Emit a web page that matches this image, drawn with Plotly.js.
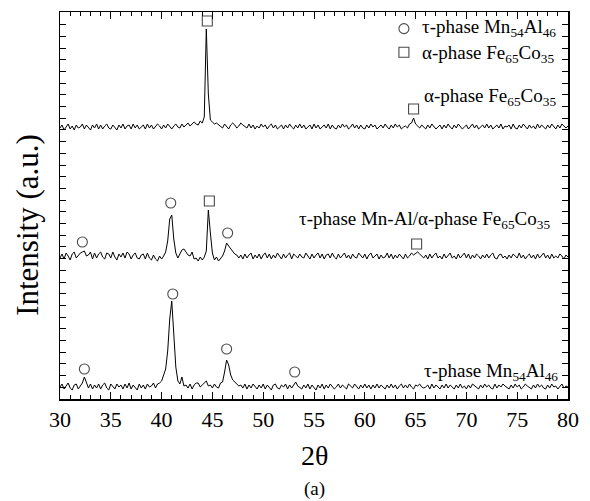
<!DOCTYPE html>
<html>
<head>
<meta charset="utf-8">
<script src="https://cdn.plot.ly/plotly-3.0.1.min.js"></script>
<style>html,body{margin:0;padding:0;background:#fff}#chart{width:590px;height:501px}</style>
</head>
<body>
<div id="chart"></div>
<script>
// 2θ sampling grid of the scans
const twoThetaStart = 30, twoThetaStep = 0.2, nPoints = 251;

// bottom: τ-phase Mn54Al46 (offset intensity, a.u.)
const mnAl = [
12,15,10,13,16,11,9,14,15,10,
13,16,22,17,11,15,10,14,11,15,
10,14,16,11,9,15,13,10,15,12,
14,10,15,11,16,10,14,12,9,15,
11,14,10,15,12,13,16,11,15,16,
18,24,30,48,80,98,70,32,18,15,
22,13,14,11,15,10,14,16,16,12,
14,16,18,13,14,11,15,12,11,16,
17,27,39,34,24,19,17,15,13,14,
11,15,10,14,11,15,12,10,14,11,
15,10,14,11,9,14,15,11,10,14,
12,15,10,14,11,14,17,13,11,10,
14,11,15,10,14,11,9,14,11,15,
10,14,11,15,13,10,12,15,11,14,
12,10,15,13,11,15,13,10,14,11,
15,11,14,10,14,11,15,11,14,12,
10,14,11,15,11,14,10,13,15,11,
14,11,15,12,10,14,13,15,12,11,
12,14,10,15,11,14,12,10,14,11,
15,11,14,12,10,14,11,15,11,13,
10,14,11,15,13,11,10,14,11,15,
12,14,11,10,15,11,14,12,15,13,
11,10,14,11,15,12,14,10,12,15,
13,11,10,14,11,15,12,14,11,10,
14,11,15,12,13,10,12,15,11,13,
12];

// middle: τ-phase Mn-Al / α-phase Fe65Co35
const mnAlFeCo = [
141,145,140,146,143,139,145,147,141,144,
146,147,148,143,144,147,140,146,141,145,
147,142,140,146,145,141,147,142,139,145,
142,146,141,147,145,140,144,146,141,140,
144,145,140,146,141,139,144,140,138,143,
140,143,147,158,180,184,160,146,141,145,
149,150,147,144,143,147,140,141,138,142,
139,142,148,189,166,146,139,142,138,141,
143,148,156,153,150,147,145,144,141,144,
140,145,141,144,146,140,144,141,145,140,
144,146,141,145,140,144,141,146,143,140,
145,141,144,146,140,145,143,141,145,142,
141,146,143,140,145,141,144,146,141,145,
140,144,145,141,146,142,140,145,141,144,
146,141,144,140,145,142,141,146,143,141,
145,140,144,146,141,143,145,140,144,141,
142,146,141,145,140,144,141,145,143,140,
145,141,143,146,144,146,147,145,143,141,
144,140,145,141,144,146,141,143,140,145,
141,144,146,141,143,140,145,141,144,146,
141,145,140,144,141,145,143,140,144,141,
145,141,144,146,141,140,144,145,141,143,
140,144,141,145,143,141,146,141,144,140,
143,145,141,144,140,145,141,143,146,141,
144,140,145,141,143,141,145,143,140,144,
142];

// top: α-phase Fe65Co35
const feCo = [
271,274,269,272,275,270,273,269,274,271,
272,275,270,274,272,269,274,271,275,270,
274,270,273,275,271,270,274,272,269,274,
271,275,270,273,274,270,275,271,274,270,
272,274,270,275,271,274,270,273,275,273,
270,274,271,275,273,270,273,275,272,271,
275,272,274,276,273,275,277,275,274,278,
276,282,370,305,279,277,275,276,274,272,
271,275,273,270,274,276,274,271,273,276,
274,272,271,275,271,274,270,273,271,275,
272,274,270,273,275,271,274,270,272,274,
270,274,271,275,272,270,274,271,275,271,
274,270,272,274,270,275,271,274,270,272,
274,271,275,270,274,271,270,274,271,275,
272,274,270,272,275,271,274,270,274,271,
270,274,271,275,272,274,270,272,274,271,
275,272,270,274,271,275,272,274,270,272,
273,271,275,276,281,275,273,271,274,272,
270,274,271,275,273,270,272,274,270,274,
271,275,272,270,274,271,275,273,270,272,
274,270,272,275,271,274,270,272,274,271,
275,271,274,270,272,274,271,275,270,273,
272,274,270,275,271,270,274,271,275,272,
270,274,271,273,270,275,271,274,272,270,
274,271,275,272,270,274,271,275,273,271,
273];

// peak markers (2θ, marker height)
const tauPeakX = [32.4, 41.1, 46.4, 53.1, 32.2, 40.9, 46.5];
const tauPeakY = [30, 105, 50, 27, 157, 196, 166];
const alphaPeakX = [44.7, 65.1, 44.5, 64.8];
const alphaPeakY = [198, 155, 378, 290];

// labels
const tauName = "τ-phase Mn<sub>54</sub>Al<sub>46</sub>";
const alphaName = "α-phase Fe<sub>65</sub>Co<sub>35</sub>";
const curveLabels = [
  {text: "α-phase Fe<sub>65</sub>Co<sub>35</sub>", x: 65.6, y: 302},
  {text: "τ-phase Mn-Al/α-phase Fe<sub>65</sub>Co<sub>35</sub>", x: 53.3, y: 179},
  {text: "τ-phase Mn<sub>54</sub>Al<sub>46</sub>", x: 65.6, y: 27}
];
const xTickVals = [30,35,40,45,50,55,60,65,70,75,80];

const twoTheta = [];
for (let i = 0; i < nPoints; i++) twoTheta.push(+(twoThetaStart + i * twoThetaStep).toFixed(2));

const font = "'Liberation Serif','Times New Roman',serif";
const lineStyle = {color: '#000', width: 1};
const markerColor = '#4a4a4a';

const traces = [
  {x: twoTheta, y: mnAl, mode: 'lines', line: lineStyle, showlegend: false, hoverinfo: 'skip'},
  {x: twoTheta, y: mnAlFeCo, mode: 'lines', line: lineStyle, showlegend: false, hoverinfo: 'skip'},
  {x: twoTheta, y: feCo, mode: 'lines', line: lineStyle, showlegend: false, hoverinfo: 'skip'},
  {x: tauPeakX, y: tauPeakY, mode: 'markers', name: tauName, cliponaxis: false, showlegend: false,
   marker: {symbol: 'circle-open', size: 10, color: markerColor, line: {width: 1.1}}},
  {x: alphaPeakX, y: alphaPeakY, mode: 'markers', name: alphaName, cliponaxis: false, showlegend: false,
   marker: {symbol: 'square-open', size: 10, color: markerColor, line: {width: 1.1}}}
];

const annotations = curveLabels.map(l => ({
  text: l.text, x: l.x, y: l.y, xref: 'x', yref: 'y', xanchor: 'left', yanchor: 'middle',
  showarrow: false, font: {family: font, size: 19, color: '#000'}
}));
// legend rows (stacked tightly, touching at y = 0.925)
annotations.push(
  {text: tauName, xref: 'paper', yref: 'paper', x: 0.71, y: 0.925, xanchor: 'left', yanchor: 'bottom',
   showarrow: false, borderpad: 0, font: {family: font, size: 19, color: '#000'}},
  {text: alphaName, xref: 'paper', yref: 'paper', x: 0.71, y: 0.925, xanchor: 'left', yanchor: 'top',
   showarrow: false, borderpad: 0, font: {family: font, size: 19, color: '#000'}}
);
annotations.push(
  {text: 'Intensity (a.u.)', xref: 'paper', yref: 'paper', x: -0.063, y: 0.45, textangle: -90,
   showarrow: false, xanchor: 'center', yanchor: 'middle', font: {family: font, size: 31, color: '#000'}},
  {text: '2θ', xref: 'paper', yref: 'paper', x: 0.5, y: -0.145, showarrow: false,
   xanchor: 'center', yanchor: 'middle', font: {family: font, size: 28, color: '#000'}},
  {text: '(a)', xref: 'paper', yref: 'paper', x: 0.5, y: -0.233, showarrow: false,
   xanchor: 'center', yanchor: 'middle', font: {family: font, size: 19, color: '#000'}}
);

// legend symbols
const shapes = [
  {type: 'circle', xref: 'paper', yref: 'paper', xsizemode: 'pixel', ysizemode: 'pixel',
   xanchor: 0.677, yanchor: 0.957, x0: -5, x1: 5, y0: -5, y1: 5,
   line: {color: markerColor, width: 1.1}},
  {type: 'rect', xref: 'paper', yref: 'paper', xsizemode: 'pixel', ysizemode: 'pixel',
   xanchor: 0.677, yanchor: 0.896, x0: -5, x1: 5, y0: -5, y1: 5,
   line: {color: markerColor, width: 1.1}}
];

const layout = {
  width: 590, height: 501,
  margin: {l: 60, r: 22, t: 12, b: 102},
  paper_bgcolor: '#fff', plot_bgcolor: '#fff',
  font: {family: font, color: '#000'},
  showlegend: false,
  xaxis: {range: [30, 80], tickvals: xTickVals, ticks: 'inside', ticklen: 7, tickwidth: 1,
    tickcolor: '#000', mirror: 'ticks', showline: true, linecolor: '#000', linewidth: 1.5,
    showgrid: false, zeroline: false, tickfont: {family: font, size: 22, color: '#000'},
    minor: {dtick: 1, ticks: 'inside', ticklen: 4, tickcolor: '#000', showgrid: false}},
  yaxis: {range: [0, 387], tick0: 0, dtick: 11.7, ticks: 'inside', ticklen: 6, tickwidth: 1,
    tickcolor: '#000', mirror: 'ticks', showline: true, linecolor: '#000', linewidth: 1.5,
    showticklabels: false, showgrid: false, zeroline: false},
  annotations: annotations,
  shapes: shapes
};

Plotly.newPlot('chart', traces, layout, {staticPlot: true, displayModeBar: false});
</script>
</body>
</html>
